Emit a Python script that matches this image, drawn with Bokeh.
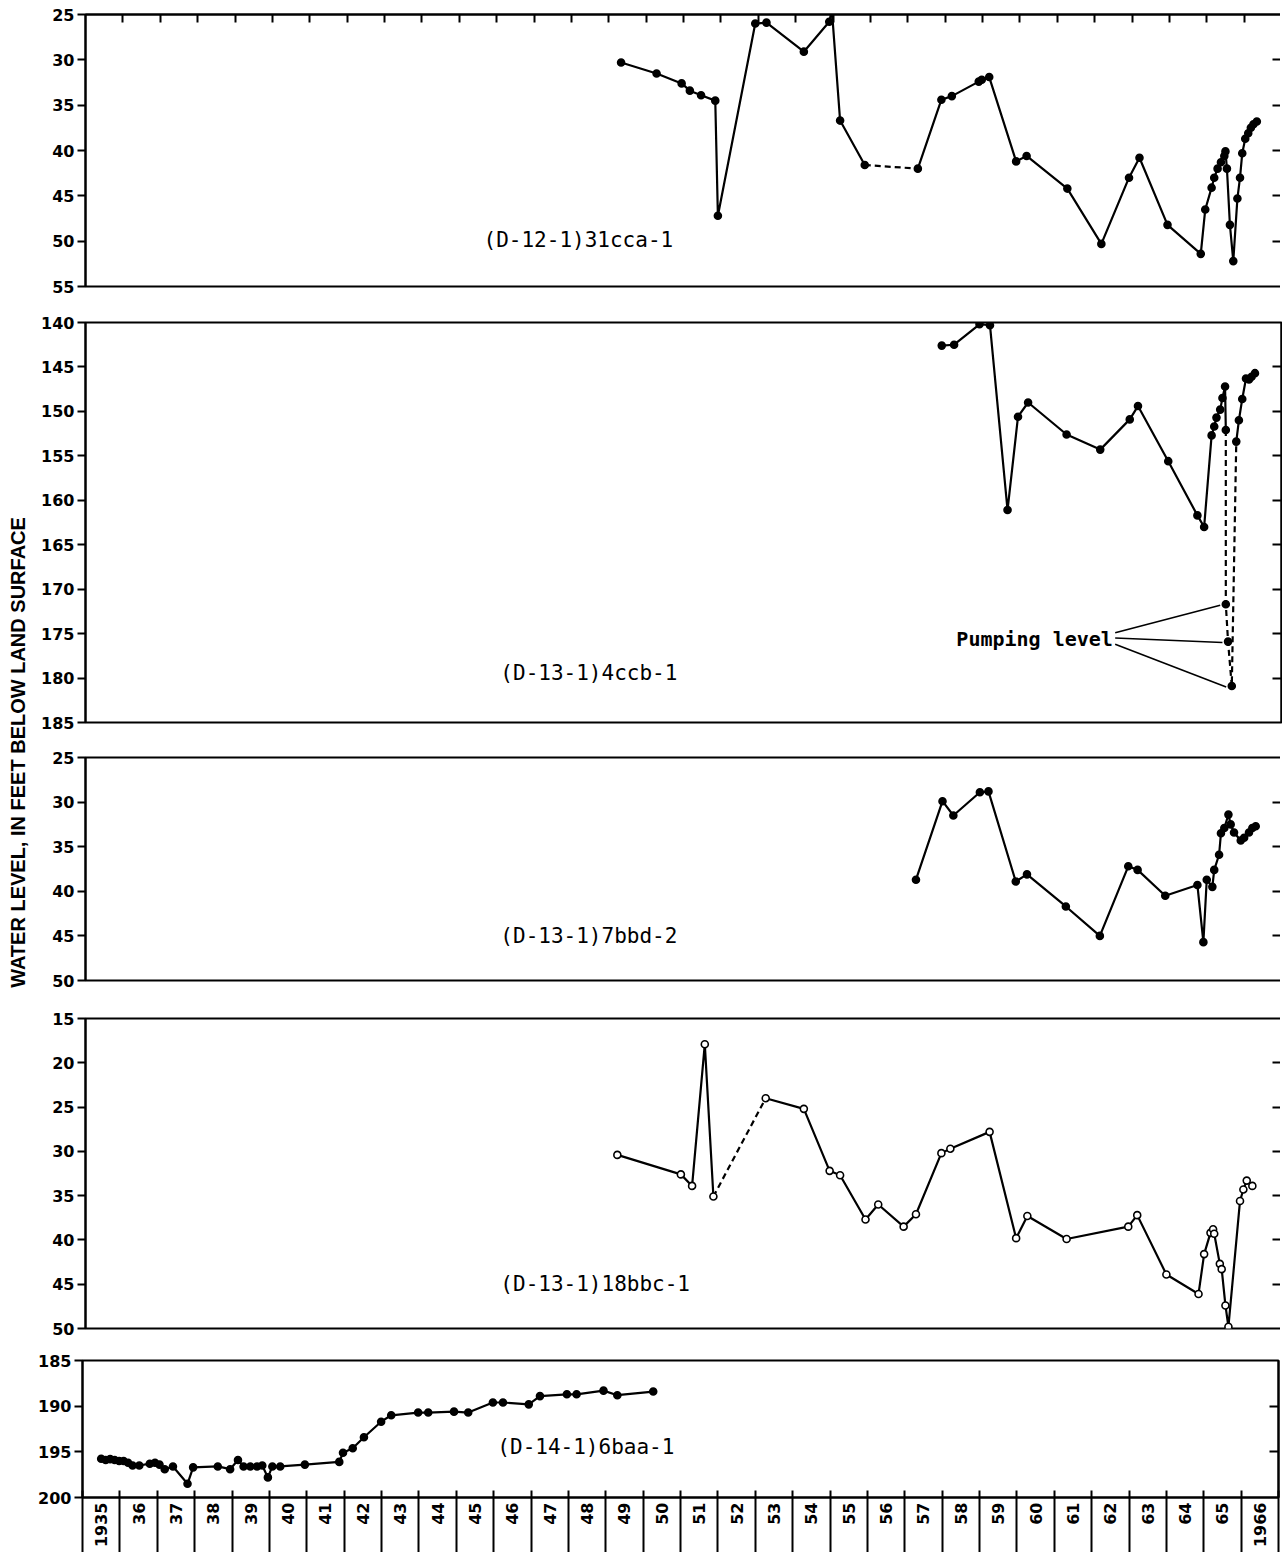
import math
from bokeh.plotting import figure
from bokeh.models import Range1d, LinearAxis, FixedTicker, Label
from bokeh.layouts import column, row
from bokeh.embed import file_html
from bokeh.resources import INLINE

# ---------------- data ----------------
years_axis = list(range(1935, 1967))
year_labels = ["1935"] + [str(y)[2:] for y in range(1936, 1966)] + ["1966"]

# (D-12-1)31cca-1
p1_name = "(D-12-1)31cca-1"
p1_ticks = [25, 30, 35, 40, 45, 50, 55]
p1_year = [1949.33, 1950.28, 1950.95, 1951.17, 1951.47, 1951.85, 1951.92, 1952.92, 1953.22, 1954.22,
           1954.90, 1954.97, 1955.19, 1955.85, 1957.27, 1957.90, 1958.18, 1958.90, 1958.98, 1959.18,
           1959.90, 1960.18, 1961.27, 1962.18, 1962.92, 1963.20, 1963.95, 1964.84, 1964.96, 1965.13,
           1965.20, 1965.29, 1965.38, 1965.47, 1965.50, 1965.54, 1965.62, 1965.71, 1965.82, 1965.89,
           1965.95, 1966.03, 1966.11, 1966.18, 1966.25, 1966.34]
p1_level = [30.3, 31.5, 32.6, 33.4, 33.9, 34.5, 47.2, 26.0, 25.9, 29.1,
            25.8, 24.5, 36.7, 41.6, 42.0, 34.4, 34.0, 32.4, 32.2, 31.9,
            41.2, 40.6, 44.2, 50.3, 43.0, 40.8, 48.2, 51.4, 46.5, 44.1,
            43.0, 42.0, 41.3, 40.6, 40.1, 42.0, 48.2, 52.2, 45.3, 43.0,
            40.3, 38.7, 38.1, 37.5, 37.1, 36.8]
p1_dashed_after = [13]

# (D-13-1)4ccb-1
p2_name = "(D-13-1)4ccb-1"
p2_ticks = [140, 145, 150, 155, 160, 165, 170, 175, 180, 185]
p2_year = [1957.91, 1958.24, 1958.92, 1959.20, 1959.67, 1959.95, 1960.22, 1961.25, 1962.15, 1962.94,
           1963.16, 1963.97, 1964.75, 1964.93, 1965.13, 1965.20, 1965.26, 1965.36, 1965.42, 1965.49,
           1965.51, 1965.51, 1965.57, 1965.67, 1965.79, 1965.86, 1965.95, 1966.05, 1966.13, 1966.20,
           1966.29]
p2_level = [142.6, 142.5, 140.2, 140.3, 161.1, 150.6, 149.0, 152.6, 154.3, 150.9,
            149.4, 155.6, 161.7, 163.0, 152.7, 151.7, 150.7, 149.8, 148.5, 147.2,
            152.1, 171.7, 175.9, 180.9, 153.4, 151.0, 148.6, 146.3, 146.4, 146.1,
            145.7]
p2_dashed_after = [20, 21, 22, 23]
p2_pumping = [21, 22, 23]
pumping_text = "Pumping level"

# (D-13-1)7bbd-2
p3_name = "(D-13-1)7bbd-2"
p3_ticks = [25, 30, 35, 40, 45, 50]
p3_year = [1957.22, 1957.93, 1958.22, 1958.93, 1959.16, 1959.89, 1960.19, 1961.23, 1962.14, 1962.90,
           1963.15, 1963.89, 1964.75, 1964.91, 1965.00, 1965.15, 1965.20, 1965.33, 1965.38, 1965.47,
           1965.58, 1965.64, 1965.73, 1965.91, 1966.00, 1966.13, 1966.22, 1966.31]
p3_level = [38.7, 29.9, 31.5, 28.9, 28.8, 38.9, 38.1, 41.7, 45.0, 37.2,
            37.6, 40.5, 39.3, 45.7, 38.7, 39.5, 37.6, 35.9, 33.5, 32.9,
            31.4, 32.5, 33.4, 34.3, 34.0, 33.4, 32.9, 32.7]
p3_dashed_after = []

# (D-13-1)18bbc-1
p4_name = "(D-13-1)18bbc-1"
p4_ticks = [15, 20, 25, 30, 35, 40, 45, 50]
p4_year = [1949.23, 1950.93, 1951.23, 1951.57, 1951.80, 1953.20, 1954.22, 1954.91, 1955.19, 1955.87,
           1956.21, 1956.89, 1957.22, 1957.90, 1958.14, 1959.19, 1959.90, 1960.20, 1961.25, 1962.90,
           1963.14, 1963.92, 1964.78, 1964.93, 1965.10, 1965.17, 1965.20, 1965.35, 1965.40, 1965.50,
           1965.58, 1965.89, 1965.98, 1966.07, 1966.22]
p4_level = [30.4, 32.6, 33.9, 17.9, 35.1, 24.0, 25.2, 32.2, 32.7, 37.7,
            36.0, 38.5, 37.1, 30.2, 29.7, 27.8, 39.8, 37.3, 39.9, 38.5,
            37.2, 43.9, 46.1, 41.6, 39.2, 38.8, 39.3, 42.7, 43.3, 47.4,
            49.8, 35.6, 34.3, 33.3, 33.9]
p4_dashed_after = [4]

# (D-14-1)6baa-1
p5_name = "(D-14-1)6baa-1"
p5_ticks = [185, 190, 195, 200]
p5_year = [1935.50, 1935.62, 1935.74, 1935.86, 1935.98, 1936.10, 1936.22, 1936.34, 1936.52, 1936.80,
           1936.94, 1937.06, 1937.20, 1937.42, 1937.81, 1937.96, 1938.62, 1938.95, 1939.16, 1939.31,
           1939.49, 1939.67, 1939.81, 1939.96, 1940.08, 1940.29, 1940.95, 1941.87, 1941.97, 1942.23,
           1942.53, 1942.99, 1943.26, 1943.98, 1944.25, 1944.94, 1945.32, 1945.98, 1946.25, 1946.94,
           1947.24, 1947.96, 1948.22, 1948.94, 1949.31, 1950.27]
p5_level = [195.75, 195.9, 195.8, 195.9, 196.0, 196.0, 196.2, 196.5, 196.5, 196.3,
            196.2, 196.4, 196.9, 196.6, 198.5, 196.7, 196.6, 196.9, 195.9, 196.6,
            196.6, 196.6, 196.5, 197.8, 196.6, 196.6, 196.4, 196.1, 195.1, 194.6,
            193.4, 191.7, 191.0, 190.7, 190.7, 190.6, 190.7, 189.6, 189.6, 189.8,
            188.9, 188.7, 188.7, 188.3, 188.8, 188.4]
p5_dashed_after = []

y_title = "WATER LEVEL, IN FEET BELOW LAND SURFACE"

# ---------------- styling / layout ----------------
FRAME_W = 1196
TICK_FONT = "DejaVu Sans"
NAME_FONT = "DejaVu Sans Mono"
LW = 2.2
DIVIDER = 55


def split_runs(xs, ys, dashed_after):
    solid_x, solid_y, dash_x, dash_y = [], [], [], []
    cur_style, cx, cy = None, [], []

    def flush():
        if cur_style == "solid":
            solid_x.append(cx); solid_y.append(cy)
        elif cur_style == "dash":
            dash_x.append(cx); dash_y.append(cy)

    for i in range(len(xs) - 1):
        style = "dash" if i in dashed_after else "solid"
        if style != cur_style:
            flush()
            cur_style, cx, cy = style, [xs[i]], [ys[i]]
        cx.append(xs[i + 1]); cy.append(ys[i + 1])
    flush()
    return solid_x, solid_y, dash_x, dash_y


def tick_only_axis(ticks, tick_in):
    return LinearAxis(ticker=FixedTicker(ticks=ticks),
                      major_tick_in=tick_in, major_tick_out=0,
                      major_tick_line_width=2, major_tick_line_color="black",
                      axis_line_width=2, axis_line_color="black",
                      major_label_text_font_size="1px", major_label_text_color=None,
                      major_label_standoff=0)


def make_panel(ticks, frame_h, left, top, bottom):
    p = figure(frame_width=FRAME_W, frame_height=frame_h,
               x_range=Range1d(1935, 1967), y_range=Range1d(ticks[-1], ticks[0]),
               x_axis_location=None, y_axis_location="left",
               output_backend="svg", toolbar_location=None,
               min_border_left=left, min_border_right=2,
               min_border_top=top, min_border_bottom=bottom,
               background_fill_color="white", border_fill_color="white",
               outline_line_color="black", outline_line_width=2)
    p.grid.visible = False
    ya = p.yaxis[0]
    ya.ticker = FixedTicker(ticks=ticks)
    ya.major_tick_in = 0
    ya.major_tick_out = 8
    ya.major_tick_line_width = 2
    ya.major_tick_line_color = "black"
    ya.axis_line_width = 2
    ya.axis_line_color = "black"
    ya.major_label_standoff = 3
    ya.major_label_text_font = TICK_FONT
    ya.major_label_text_font_style = "bold"
    ya.major_label_text_font_size = "16px"
    ya.major_label_text_color = "black"
    p.add_layout(tick_only_axis(ticks[1:-1], 9), "right")
    return p


def draw_series(p, xs, ys, dashed_after, fill):
    sx, sy, dx, dy = split_runs(xs, ys, dashed_after)
    if sx:
        p.multi_line(sx, sy, line_color="black", line_width=LW)
    if dx:
        p.multi_line(dx, dy, line_color="black", line_width=LW, line_dash="6 4")
    p.scatter(xs, ys, marker="circle", size=7, fill_color=fill,
              line_color="black", line_width=1.6)


def name_label(p, x, y, text):
    p.add_layout(Label(x=x, y=y, text=text, text_font=NAME_FONT, text_font_size="21px",
                       text_align="left", text_baseline="middle", text_color="black"))


p1 = make_panel(p1_ticks, 272, 44, 14, 18)
p1.add_layout(tick_only_axis(years_axis[1:], 8), "above")
draw_series(p1, p1_year, p1_level, p1_dashed_after, "black")
name_label(p1, 1945.65, 49.9, p1_name)

p2 = make_panel(p2_ticks, 400, 44, 18, 17)
draw_series(p2, p2_year, p2_level, p2_dashed_after, "black")
name_label(p2, 1946.1, 179.4, p2_name)
p2.add_layout(Label(x=1958.3, y=175.6, text=pumping_text, text_font=NAME_FONT,
                    text_font_size="20px", text_font_style="bold",
                    text_align="left", text_baseline="middle", text_color="black"))
p2.segment(x0=[1962.55] * len(p2_pumping), y0=[174.9, 175.5, 176.2],
           x1=[p2_year[i] - 0.15 for i in p2_pumping],
           y1=[p2_level[i] + 0.1 for i in p2_pumping],
           line_color="black", line_width=1.6)

p3 = make_panel(p3_ticks, 223, 44, 18, 19)
draw_series(p3, p3_year, p3_level, p3_dashed_after, "black")
name_label(p3, 1946.1, 45.0, p3_name)

p4 = make_panel(p4_ticks, 310, 44, 19, 16)
draw_series(p4, p4_year, p4_level, p4_dashed_after, "white")
name_label(p4, 1946.1, 45.0, p4_name)

p5 = make_panel(p5_ticks, 137, 82, 16, DIVIDER)
bx = LinearAxis(ticker=FixedTicker(ticks=[y + 0.5 for y in years_axis],
                                   minor_ticks=years_axis + [1967]),
                major_label_overrides={y + 0.5: lab for y, lab in zip(years_axis, year_labels)},
                major_label_orientation=math.pi / 2,
                major_tick_in=0, major_tick_out=0,
                minor_tick_in=7, minor_tick_out=DIVIDER,
                minor_tick_line_width=2, minor_tick_line_color="black",
                axis_line_width=2, axis_line_color="black",
                major_label_standoff=5 - DIVIDER,
                major_label_text_font=TICK_FONT, major_label_text_font_style="bold",
                major_label_text_font_size="16px", major_label_text_color="black")
p5.add_layout(bx, "below")
draw_series(p5, p5_year, p5_level, p5_dashed_after, "black")
name_label(p5, 1946.1, 194.5, p5_name)

upper_h = 304 + 435 + 260 + 345
lab = figure(width=38, height=upper_h, x_range=Range1d(0, 1), y_range=Range1d(0, 1),
             x_axis_location=None, y_axis_location=None, output_backend="svg",
             toolbar_location=None, min_border=0, outline_line_color=None,
             background_fill_color="white", border_fill_color="white")
lab.grid.visible = False
lab.add_layout(Label(x=0.47, y=1 - 752 / upper_h, text=y_title, angle=math.pi / 2,
                     text_align="center", text_baseline="middle",
                     text_font="Liberation Sans", text_font_style="bold",
                     text_font_size="20px", text_color="black"))

layout = column(row(lab, column(p1, p2, p3, p4)), p5)
open("out.html", "w").write(file_html(layout, INLINE))
